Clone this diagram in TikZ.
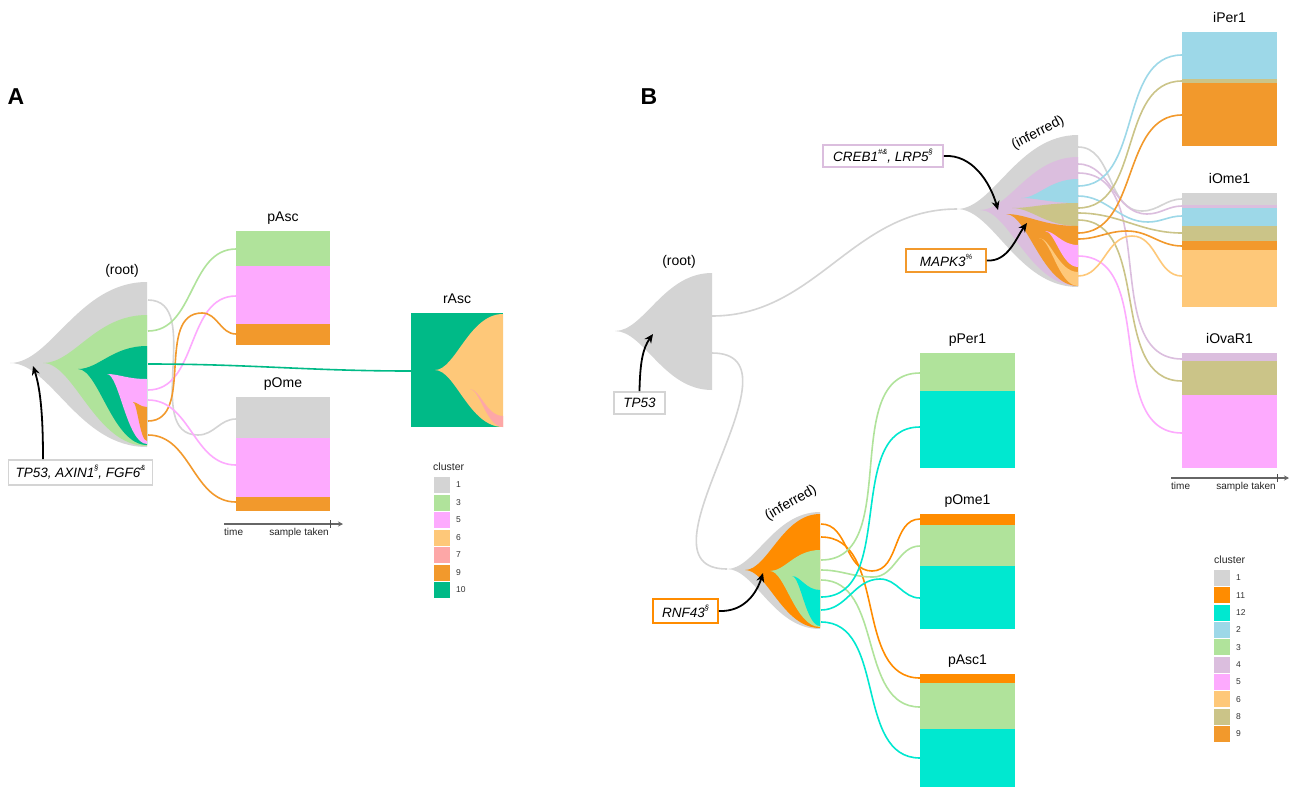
\documentclass[tikz,border=0pt]{standalone}
\usepackage{fontspec}
\setmainfont{Liberation Sans}
\usetikzlibrary{arrows.meta}
\definecolor{k1}{HTML}{D4D4D4}
\definecolor{k2}{HTML}{9DD8E8}
\definecolor{k3}{HTML}{B0E39B}
\definecolor{k4}{HTML}{DBBEDE}
\definecolor{k5}{HTML}{FDAAFE}
\definecolor{k6}{HTML}{FEC879}
\definecolor{k7}{HTML}{FDA7A7}
\definecolor{k8}{HTML}{CBC488}
\definecolor{k9}{HTML}{F2992C}
\definecolor{k10}{HTML}{00BA87}
\definecolor{k11}{HTML}{FF8C00}
\definecolor{k12}{HTML}{00E8D0}
\newcommand{\fishl}[6]{\fill[#1] (#2,#3) .. controls ({#2+0.3*(#4-#2)},#3) and ({#4-0.5*(#4-#2)},#5) .. (#4,#5) -- (#4,#6) .. controls ({#4-0.5*(#4-#2)},#6) and ({#2+0.3*(#4-#2)},#3) .. cycle;}
\newcommand{\supr}[1]{\raisebox{0.5em}{\fontsize{7.5}{8}\selectfont #1}}
\newcommand{\lnk}[4]{\coordinate (#2s) at (#3); \coordinate (#2e) at (#4); \draw[conn,#1] (#2s) to[out=0,in=180] (#2e);}
\newcommand{\lnkw}[5]{\coordinate (#2s) at (#3); \coordinate (#2w) at (#4); \coordinate (#2e) at (#5); \draw[conn,#1] (#2s) to[out=0,in=180] (#2w) to[out=0,in=180] (#2e);}
\begin{document}
\begin{tikzpicture}[x=1pt,y=-1pt,
  conn/.style={line width=1.6pt},
  ann/.style={draw, line width=1.8pt, fill=white, inner sep=0pt, font=\fontsize{13.5}{16}\selectfont\itshape},
  lbl/.style={anchor=base, inner sep=0pt, font=\fontsize{14}{16}\selectfont},
  arr/.style={line width=1.8pt, -{Stealth[length=9pt,width=8pt]}},
  axisl/.style={line width=1.3pt, black!60, -{Stealth[length=5pt,width=5pt]}},
  smalltxt/.style={inner sep=0pt, font=\fontsize{10}{12}\selectfont, text=black!85},
  legnum/.style={anchor=west, inner sep=0pt, font=\fontsize{8.5}{10}\selectfont, text=black!80}]
\useasboundingbox (0,0) rectangle (1290,788);
\fill[white] (0,0) rectangle (1290,788);

% ---------------- Panel A ----------------
\node[anchor=base, inner sep=0pt, font=\fontsize{23}{26}\selectfont\bfseries] (labA) at (16,104) {A};
\fishl{k1}{10}{363}{147}{282}{447}
\fishl{k3}{43}{363}{147}{315}{446}
\fishl{k10}{78}{369}{147}{346}{445}
\fishl{k5}{107}{374}{147}{379}{444}
\fishl{k9}{133}{402}{147}{407}{441}
\coordinate (aTip) at (33,366);
\node[lbl] (rootA) at (122,274) {(root)};

% connectors A
\lnkw{k1}{aG}{148,300}{198,435}{236,419}
\lnk{k3}{aGr}{148,331}{236,249}
\lnk{k5}{aPa}{148,390}{236,296}
\lnkw{k9}{aOa}{148,421}{202,313}{236,334}
\lnk{k10}{aT}{148,364}{411,371}
\lnk{k5}{aPb}{148,400}{236,465}
\lnk{k9}{aOb}{148,435}{236,502}

% samples A
\fill[k3] (236,231) rectangle (330,266);
\fill[k5] (236,266) rectangle (330,324);
\fill[k9] (236,324) rectangle (330,345);
\node[lbl] (pAscL) at (283,221) {pAsc};
\fill[k1] (236,397) rectangle (330,438);
\fill[k5] (236,438) rectangle (330,497);
\fill[k9] (236,497) rectangle (330,511);
\node[lbl] (pOmeL) at (283,387) {pOme};
\fill[k10] (411,313) rectangle (503,427);
\fishl{k6}{435}{370}{503}{314}{427}
\fishl{k7}{470}{389}{503}{416}{427}
\node[lbl] (rAscL) at (457,303) {rAsc};

% axis A
\coordinate (axAs) at (224,524); \coordinate (axAe) at (343,524);
\draw[axisl] (axAs) -- (axAe);
\draw[line width=1pt, black!70] (330,520) -- (330,528);
\node[smalltxt, anchor=base west] (tA) at (224,535) {time};
\node[smalltxt, anchor=base east] (sA) at (329,535) {sample taken};

% legend A
\node[smalltxt, anchor=base west, font=\fontsize{10.5}{12}\selectfont] (legAt) at (433,470) {cluster};
\foreach \c [count=\i from 0] in {1,3,5,6,7,9,10} {
  \fill[k\c] (434,{477+17.5*\i}) rectangle (450,{493+17.5*\i});
  \node[legnum] (legA\c) at (456,{485+17.5*\i}) {\c};
}

% annotation A
\node[ann, draw=k1, minimum width=144pt, minimum height=25pt] (annA) at (80.5,472.5) {TP53, AXIN1\supr{\S}, FGF6\supr{\&}};
\coordinate (aArS) at (43,459);
\draw[arr] (aArS) .. controls (43,420) and (41,390) .. (aTip);

% ---------------- Panel B ----------------
\node[anchor=base, inner sep=0pt, font=\fontsize{23}{26}\selectfont\bfseries] (labB) at (649,104) {B};
\fishl{k1}{615}{331}{712}{273}{390}
\node[lbl] (rootB) at (679,265) {(root)};
\coordinate (bTip) at (653,334);

% upper inferred
\fishl{k1}{957}{209}{1078}{135}{287}
\fishl{k4}{980}{210}{1078}{157}{286}
\fishl{k2}{1021}{198}{1078}{179}{203}
\fishl{k8}{1012}{208}{1078}{203}{226}
\fishl{k9}{1006}{214}{1078}{226}{286}
\fishl{k5}{1045}{231}{1078}{245}{267}
\fishl{k6}{1039}{238}{1078}{272}{286}
\node[inner sep=0pt, font=\fontsize{14}{16}\selectfont, rotate=27] (infU) at (1038,133) {(inferred)};
\coordinate (cTip) at (998,210);
\coordinate (mTip) at (1027,223);

% lower inferred
\fishl{k1}{727}{569}{820}{512}{629}
\fishl{k11}{745}{570}{820}{514}{628}
\fishl{k3}{770}{571}{820}{550}{627}
\fishl{k12}{792}{576}{820}{590}{626}
\node[inner sep=0pt, font=\fontsize{14}{16}\selectfont, rotate=30] (infL) at (791,503) {(inferred)};
\coordinate (rTip) at (763,573);

% root connectors
\lnk{k1}{rT}{712,316}{957,209}
\coordinate (rBs) at (712,353); \coordinate (rBe) at (727,569);
\draw[conn,k1] (rBs) .. controls +(100,0) and +(-100,0) .. (rBe);

% lower connectors
\lnkw{k11}{bOa}{821,524}{872,571}{920,519}
\lnk{k11}{bOb}{821,537}{920,678}
\lnk{k3}{bGa}{821,560}{920,373}
\lnkw{k3}{bGb}{821,570}{873,577}{920,546}
\lnk{k3}{bGc}{821,580}{920,707}
\lnk{k12}{bCa}{821,597}{920,427}
\lnkw{k12}{bCb}{821,610}{880,579}{920,598}
\lnk{k12}{bCc}{821,622}{920,758}

% upper connectors
\lnkw{k1}{uG}{1078,147}{1142,211}{1182,199}
\lnkw{k4}{uPa}{1078,164}{1147,214}{1182,206}
\lnk{k4}{uPb}{1078,173}{1182,359}
\lnk{k2}{uBa}{1078,186}{1182,55}
\lnkw{k2}{uBb}{1078,196}{1148,222}{1182,216}
\lnk{k8}{uKa}{1078,208}{1182,81}
\lnk{k8}{uKb}{1078,213}{1182,233}
\lnk{k8}{uKc}{1078,220}{1182,381}
\lnk{k9}{uOa}{1078,233}{1182,115}
\lnkw{k9}{uOb}{1078,239}{1127,231}{1182,246}
\lnk{k5}{uPk}{1078,256}{1182,433}
\lnkw{k6}{uLO}{1078,276}{1132,236}{1182,276}

% samples B lower
\fill[k3] (920,353) rectangle (1015,391);
\fill[k12] (920,391) rectangle (1015,468);
\node[lbl] (pPer1L) at (967.5,343) {pPer1};
\fill[k11] (920,514) rectangle (1015,525);
\fill[k3] (920,525) rectangle (1015,566);
\fill[k12] (920,566) rectangle (1015,629);
\node[lbl] (pOme1L) at (967.5,504) {pOme1};
\fill[k11] (920,674) rectangle (1015,683);
\fill[k3] (920,683) rectangle (1015,729);
\fill[k12] (920,729) rectangle (1015,787);
\node[lbl] (pAsc1L) at (967.5,664) {pAsc1};

% samples B upper
\fill[k2] (1182,32) rectangle (1277,79);
\fill[k8] (1182,79) rectangle (1277,83);
\fill[k9] (1182,83) rectangle (1277,146);
\node[lbl] (iPer1L) at (1229.5,22) {iPer1};
\fill[k1] (1182,193) rectangle (1277,205);
\fill[k4] (1182,205) rectangle (1277,208);
\fill[k2] (1182,208) rectangle (1277,226);
\fill[k8] (1182,226) rectangle (1277,241);
\fill[k9] (1182,241) rectangle (1277,250);
\fill[k6] (1182,250) rectangle (1277,307);
\node[lbl] (iOme1L) at (1229.5,183) {iOme1};
\fill[k4] (1182,353) rectangle (1277,361);
\fill[k8] (1182,361) rectangle (1277,395);
\fill[k5] (1182,395) rectangle (1277,468);
\node[lbl] (iOvaR1L) at (1229.5,343) {iOvaR1};

% axis B
\coordinate (axBs) at (1171,478); \coordinate (axBe) at (1289,478);
\draw[axisl] (axBs) -- (axBe);
\draw[line width=1pt, black!70] (1277,474) -- (1277,482);
\node[smalltxt, anchor=base west] (tB) at (1171,489) {time};
\node[smalltxt, anchor=base east] (sB) at (1276,489) {sample taken};

% legend B
\node[smalltxt, anchor=base west, font=\fontsize{10.5}{12}\selectfont] (legBt) at (1214,563) {cluster};
\foreach \c [count=\i from 0] in {1,11,12,2,3,4,5,6,8,9} {
  \fill[k\c] (1214,{570+17.33*\i}) rectangle (1230,{586+17.33*\i});
  \node[legnum] (legB\c) at (1236,{578+17.33*\i}) {\c};
}

% annotations B
\node[ann, draw=k1, minimum width=51pt, minimum height=22pt] (annTP) at (639.5,403) {TP53};
\draw[arr] (annTP.north) .. controls (640,362) and (643,348) .. (bTip);
\node[ann, draw=k11, minimum width=65pt, minimum height=24pt] (annR) at (685.5,611) {RNF43\supr{\S}};
\draw[arr] (annR.east) .. controls (745,612) and (757,592) .. (rTip);
\node[ann, draw=k4, minimum width=120pt, minimum height=22pt] (annC) at (883,156) {CREB1\supr{\#\&}, LRP5\supr{\S}};
\draw[arr] (annC.east) .. controls (972,154) and (990,182) .. (cTip);
\node[ann, draw=k9, minimum width=80pt, minimum height=23pt] (annM) at (946,260.5) {MAPK3\supr{\%}};
\draw[arr] (annM.east) .. controls (1008,262) and (1016,238) .. (mTip);
\end{tikzpicture}
\end{document}
